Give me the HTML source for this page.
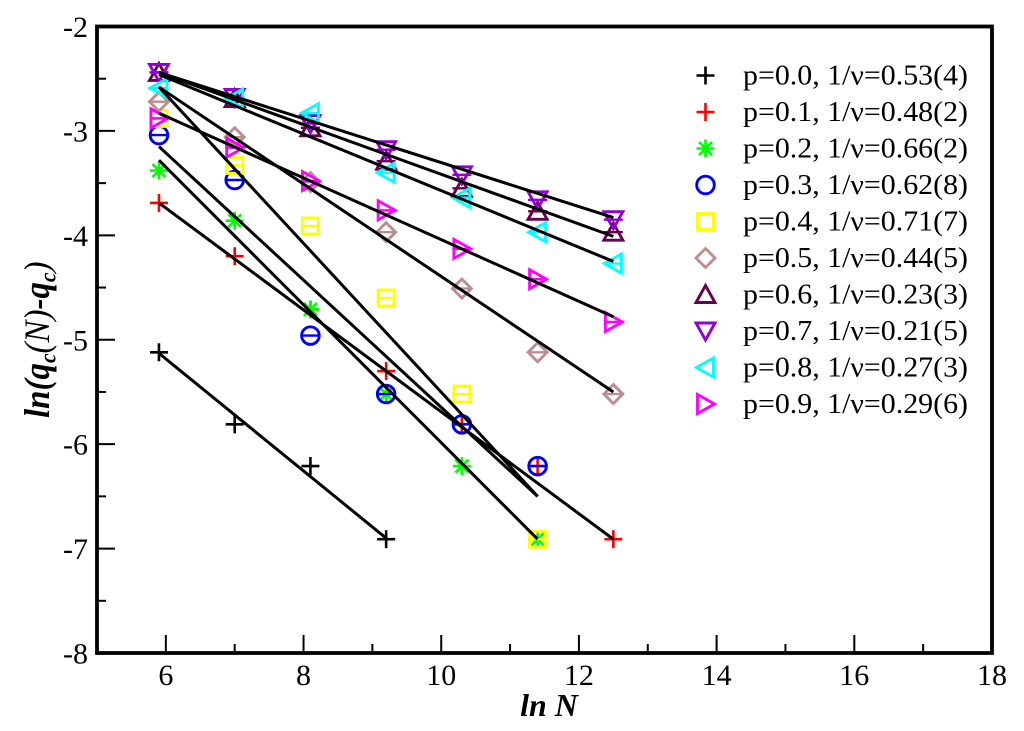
<!DOCTYPE html>
<html>
<head>
<meta charset="utf-8">
<title>ln(qc(N)-qc) vs ln N</title>
<style>
html,body{margin:0;padding:0;background:#fff;width:1024px;height:731px;overflow:hidden}
svg{display:block}
text{font-family:"Liberation Serif",serif;fill:#000}
</style>
</head>
<body>
<svg id="chart" width="1024" height="731" viewBox="0 0 1024 731" xmlns="http://www.w3.org/2000/svg">
<text transform="translate(49,418) rotate(-90) scale(1.03,1.12)" font-size="32"><tspan font-weight="bold" font-style="italic">ln(q</tspan><tspan font-weight="bold" font-style="italic" font-size="21" dy="6">c</tspan><tspan font-style="italic" dy="-6">(N)</tspan><tspan font-weight="bold" font-style="italic">-q</tspan><tspan font-weight="bold" font-style="italic" font-size="21" dy="6">c</tspan><tspan font-style="italic" dy="-6">)</tspan></text>
<text x="549" y="716" text-anchor="middle" font-size="32" font-style="italic"><tspan font-weight="bold">ln</tspan> <tspan font-weight="bold">N</tspan></text>
</svg>
<script>
const xMajorTicks = [6, 8, 10, 12, 14, 16, 18];
const xMinorTicks = [7, 9, 11, 13, 15, 17];
const yMajorTicks = [-2, -3, -4, -5, -6, -7, -8];
const yMinorTicks = [-2.5, -3.5, -4.5, -5.5, -6.5, -7.5];
const lnN = [5.9, 7.0, 8.1, 9.2, 10.3, 11.4, 12.5];

const p00 = [-5.12, -5.81, -6.21, -6.91];
const p01 = [-3.69, -4.20, -4.71, -5.30, -5.81, -6.21, -6.91];
const p02 = [-3.38, -3.86, -4.71, -5.52, -6.21, -6.91];
const p03 = [-3.04, -3.47, -4.96, -5.52, -5.81, -6.21];
const p04 = [-2.88, -3.33, -3.91, -4.60, -5.52, -6.91];
const p05 = [-2.72, -3.06, -3.49, -3.97, -4.51, -5.12, -5.52];
const p06 = [-2.44, -2.69, -2.97, -3.29, -3.55, -3.77, -3.97];
const p07 = [-2.44, -2.68, -2.93, -3.18, -3.42, -3.66, -3.85];
const p08 = [-2.59, -2.69, -2.83, -3.40, -3.64, -3.97, -4.27];
const p09 = [-2.88, -3.16, -3.48, -3.76, -4.13, -4.42, -4.83];

const fitP00 = [5.9, -5.13, 9.2, -6.90];
const fitP01 = [5.9, -3.69, 12.5, -6.91];
const fitP02 = [5.9, -3.28, 11.4, -6.91];
const fitP03 = [5.9, -3.15, 11.4, -6.50];
const fitP04 = [5.9, -2.58, 11.4, -6.50];
const fitP05 = [5.9, -2.58, 12.5, -5.50];
const fitP06 = [5.9, -2.44, 12.5, -4.01];
const fitP07 = [5.9, -2.44, 12.5, -3.83];
const fitP08 = [5.9, -2.46, 12.5, -4.25];
const fitP09 = [5.9, -2.83, 12.5, -4.78];

const legendLabels = [
  "p=0.0, 1/\u03BD=0.53(4)", "p=0.1, 1/\u03BD=0.48(2)", "p=0.2, 1/\u03BD=0.66(2)",
  "p=0.3, 1/\u03BD=0.62(8)", "p=0.4, 1/\u03BD=0.71(7)", "p=0.5, 1/\u03BD=0.44(5)",
  "p=0.6, 1/\u03BD=0.23(3)", "p=0.7, 1/\u03BD=0.21(5)", "p=0.8, 1/\u03BD=0.27(3)",
  "p=0.9, 1/\u03BD=0.29(6)"
];
const seriesNames = ["p00","p01","p02","p03","p04","p05","p06","p07","p08","p09"];
const seriesValues = [p00,p01,p02,p03,p04,p05,p06,p07,p08,p09];
const seriesFits = [fitP00,fitP01,fitP02,fitP03,fitP04,fitP05,fitP06,fitP07,fitP08,fitP09];
const seriesColors = ["#000000","#ff0000","#00ff00","#0000ff","#ffff00","#bc8f8f","#67004f","#9400d3","#00ffff","#ff00ff"];
const seriesSymbols = ["plus","plus","star","circle","square","diamond","up","down","left","right"];
const seriesHasBar = [false,false,false,true,true,true,true,true,true,true];

const NS = "http://www.w3.org/2000/svg";
const svg = document.getElementById("chart");
const L = 97, R = 992, T = 26.5, B = 653;
function xPx(v){ return L + (v - 5) * (R - L) / 13; }
function yPx(v){ return T + (-2 - v) * (B - T) / 6; }

function seg(parent, x1, y1, x2, y2, color, w){
  const l = document.createElementNS(NS, "line");
  l.setAttribute("x1", x1); l.setAttribute("y1", y1);
  l.setAttribute("x2", x2); l.setAttribute("y2", y2);
  l.setAttribute("stroke", color); l.setAttribute("stroke-width", w);
  parent.appendChild(l);
  return l;
}
function poly(parent, pts, color){
  const s = document.createElementNS(NS, "polygon");
  s.setAttribute("points", pts.map(p => p.join(",")).join(" "));
  s.setAttribute("fill", "none");
  s.setAttribute("stroke", color);
  s.setAttribute("stroke-width", 2.9);
  parent.appendChild(s);
}
function drawSymbol(g, kind, cx, cy, color, bar){
  if(kind === "plus"){
    seg(g, cx-9, cy, cx+9, cy, color, 2.6);
    seg(g, cx, cy-9, cx, cy+9, color, 2.6);
  } else if(kind === "star"){
    seg(g, cx-9, cy, cx+9, cy, color, 2.6);
    seg(g, cx, cy-9, cx, cy+9, color, 2.6);
    seg(g, cx-6.5, cy-6.5, cx+6.5, cy+6.5, color, 2.6);
    seg(g, cx-6.5, cy+6.5, cx+6.5, cy-6.5, color, 2.6);
  } else if(kind === "circle"){
    const c = document.createElementNS(NS, "circle");
    c.setAttribute("cx", cx); c.setAttribute("cy", cy); c.setAttribute("r", 8.8);
    c.setAttribute("fill", "none"); c.setAttribute("stroke", color); c.setAttribute("stroke-width", 2.9);
    g.appendChild(c);
  } else if(kind === "square"){
    poly(g, [[cx-8,cy-8],[cx+8,cy-8],[cx+8,cy+8],[cx-8,cy+8]], color);
  } else if(kind === "diamond"){
    poly(g, [[cx-9.5,cy],[cx,cy-9.5],[cx+9.5,cy],[cx,cy+9.5]], color);
  } else if(kind === "up"){
    poly(g, [[cx-9.5,cy+8],[cx+9.5,cy+8],[cx,cy-9]], color);
  } else if(kind === "down"){
    poly(g, [[cx-9.5,cy-8],[cx+9.5,cy-8],[cx,cy+9]], color);
  } else if(kind === "left"){
    poly(g, [[cx+8,cy-9.5],[cx+8,cy+9.5],[cx-9,cy]], color);
  } else if(kind === "right"){
    poly(g, [[cx-8,cy-9.5],[cx-8,cy+9.5],[cx+9,cy]], color);
  }
  if(bar){ seg(g, cx-9.5, cy, cx+9.5, cy, color, 2.4); }
}

// markers
seriesValues.forEach(function(vals, i){
  const g = document.createElementNS(NS, "g");
  
  
  svg.appendChild(g);
  vals.forEach(function(v, j){
    const m = document.createElementNS(NS, "g");
    
    
    g.appendChild(m);
    drawSymbol(m, seriesSymbols[i], xPx(lnN[j]), yPx(v), seriesColors[i], seriesHasBar[i]);
  });
});

// fit lines
seriesFits.forEach(function(f, i){
  const l = seg(svg, xPx(f[0]), yPx(f[1]), xPx(f[2]), yPx(f[3]), "#000", 3);
  
  
});

// frame
const frame = document.createElementNS(NS, "rect");


frame.setAttribute("x", L); frame.setAttribute("y", T);
frame.setAttribute("width", R - L); frame.setAttribute("height", B - T);
frame.setAttribute("fill", "none"); frame.setAttribute("stroke", "#000"); frame.setAttribute("stroke-width", 3.8);
svg.appendChild(frame);

// ticks and labels
function label(x, y, str, anchor, size){
  const t = document.createElementNS(NS, "text");
  t.setAttribute("x", x); t.setAttribute("y", y);
  t.setAttribute("text-anchor", anchor); t.setAttribute("font-size", size);
  t.textContent = str;
  svg.appendChild(t);
  return t;
}
xMajorTicks.forEach(function(v){
  const k = seg(svg, xPx(v), B, xPx(v), B-18, "#000", 2);
  
  
  const t = label(xPx(v), 685, String(v), "middle", 30);
  
  
});
xMinorTicks.forEach(function(v){
  const k = seg(svg, xPx(v), B, xPx(v), B-9, "#000", 2);
  
  
});
yMajorTicks.forEach(function(v){
  const k = seg(svg, L, yPx(v), L+18, yPx(v), "#000", 2);
  
  
  const t = label(88, yPx(v)+10.5, String(v), "end", 30);
  
  
});
yMinorTicks.forEach(function(v){
  const k = seg(svg, L, yPx(v), L+9, yPx(v), "#000", 2);
  
  
});

// legend
const legend = document.createElementNS(NS, "g");


svg.appendChild(legend);
legendLabels.forEach(function(str, i){
  const rowY = 75.5 + i * 36.5;
  const row = document.createElementNS(NS, "g");
  
  
  legend.appendChild(row);
  drawSymbol(row, seriesSymbols[i], 705.5, rowY, seriesColors[i], false);
  const t = document.createElementNS(NS, "text");
  t.setAttribute("x", 743); t.setAttribute("y", rowY + 9);
  t.setAttribute("font-size", 29);
  t.setAttribute("textLength", 225);
  t.setAttribute("lengthAdjust", "spacingAndGlyphs");
  t.textContent = str;
  row.appendChild(t);
});
</script>
</body>
</html>
